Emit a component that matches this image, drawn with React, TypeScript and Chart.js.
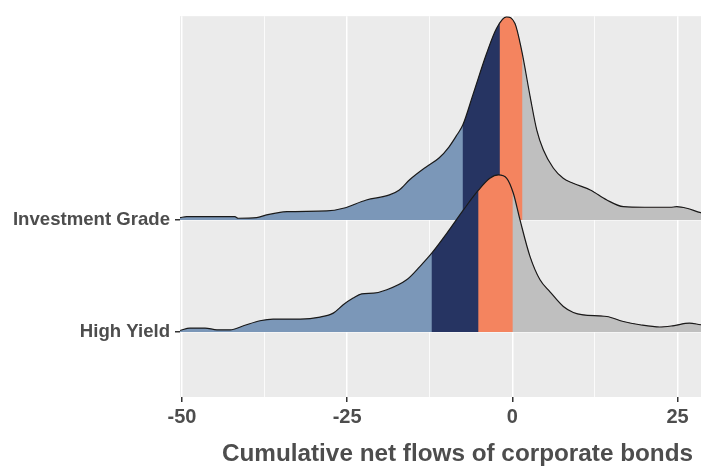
import React, { useEffect, useRef } from "react";
import { Chart, registerables } from "chart.js";

Chart.register(...registerables);

// Ridge categories (value 1 = High Yield, value 2 = Investment Grade)
const categories = ["High Yield", "Investment Grade"];

// Investment Grade density curve (x = cumulative net flow, density height in ridge units)
const igFlows = [-50.3, -49.3, -42.0, -41.5, -38.7, -37.2, -34.1, -28.1, -25.6, -22.1, -18.6, -17.1, -15.5, -13.1, -11.1, -9.6, -8.4, -7.5, -5.9, -3.9, -2.4, -0.9, 0.4, 1.4, 2.7, 3.7, 4.7, 6.2, 7.7, 9.2, 11.8, 14.3, 16.8, 20.0, 23.9, 24.9, 26.4, 28.5, 31.0, 34.0];
const igDensity = [0.02, 0.029, 0.029, 0.015, 0.02, 0.045, 0.074, 0.08, 0.104, 0.178, 0.223, 0.267, 0.36, 0.47, 0.552, 0.65, 0.757, 0.846, 1.128, 1.484, 1.707, 1.81, 1.752, 1.514, 1.098, 0.801, 0.623, 0.463, 0.371, 0.327, 0.267, 0.178, 0.118, 0.113, 0.113, 0.118, 0.104, 0.065, 0.045, 0.03];

// High Yield density curve
const hyFlows = [-50.3, -48.8, -46.5, -44.7, -42.7, -40.7, -38.2, -36.2, -32.1, -29.1, -27.1, -25.6, -24.1, -22.8, -21.0, -19.0, -16.0, -14.0, -12.2, -9.9, -7.4, -5.1, -3.4, -2.1, -0.85, 0.15, 1.16, 2.68, 4.19, 5.7, 7.72, 9.23, 10.7, 14.3, 16.8, 19.3, 22.3, 24.3, 26.8, 28.5, 31.0, 34.0];
const hyDensity = [0.014, 0.036, 0.036, 0.02, 0.02, 0.056, 0.101, 0.116, 0.116, 0.134, 0.169, 0.243, 0.303, 0.341, 0.347, 0.377, 0.466, 0.584, 0.703, 0.882, 1.089, 1.267, 1.371, 1.401, 1.371, 1.238, 1.0, 0.673, 0.466, 0.359, 0.228, 0.175, 0.154, 0.139, 0.094, 0.065, 0.045, 0.056, 0.08, 0.065, 0.05, 0.03];

// Quantile boundaries for the coloured bands
const igQuantiles = [-7.5, -1.9, 1.5];
const hyQuantiles = [-12.2, -5.15, 0.05];
const bandColors = ["#7b97b8", "#263462", "#f4845f", "#bfbfbf"];

// Axis ticks
const xTickValues = [-50, -37.5, -25, -12.5, 0, 12.5, 25];
const xTickLabels = [-50, -25, 0, 25];
const yTickValues = [1, 2];

const FONT = "'Liberation Sans', Arial, Helvetica, sans-serif";
const TEXT = "#4d4d4d";

const ridgePlugin = {
  id: "ridgeFill",
  beforeDraw(chart: any) {
    const { ctx, chartArea } = chart;
    ctx.save();
    ctx.fillStyle = "#ebebeb";
    ctx.fillRect(chartArea.left, chartArea.top, chartArea.right - chartArea.left, chartArea.bottom - chartArea.top);
    ctx.restore();
  },
  beforeDatasetDraw(chart: any, args: any) {
    const meta = args.meta;
    const ds: any = chart.data.datasets[args.index];
    const line = meta.dataset;
    const pts = meta.data;
    if (!line || !pts || !pts.length) return;
    const { ctx, chartArea } = chart;
    const xs = chart.scales.x;
    const ys = chart.scales.y;
    const base = ys.getPixelForValue(ds.baseline);
    if (typeof line.updateControlPoints === "function") line.updateControlPoints(chartArea, "x");
    const bounds = [chartArea.left, ...ds.quantiles.map((q: number) => xs.getPixelForValue(q))];
    bounds.forEach((b: number, i: number) => {
      ctx.save();
      ctx.beginPath();
      ctx.rect(b, chartArea.top, chartArea.right - b, chartArea.bottom - chartArea.top);
      ctx.clip();
      ctx.beginPath();
      if (typeof line.path === "function") {
        line.path(ctx);
      } else {
        pts.forEach((p: any, j: number) => (j ? ctx.lineTo(p.x, p.y) : ctx.moveTo(p.x, p.y)));
      }
      ctx.lineTo(pts[pts.length - 1].x, base);
      ctx.lineTo(pts[0].x, base);
      ctx.closePath();
      ctx.fillStyle = bandColors[i];
      ctx.fill();
      ctx.restore();
    });
  },
};

export default function App() {
  const canvasRef = useRef<HTMLCanvasElement | null>(null);

  useEffect(() => {
    if (!canvasRef.current) return;
    const ridge = (flows: number[], dens: number[], baseline: number) =>
      flows.map((x, i) => ({ x, y: baseline + dens[i] }));

    const chart = new Chart(canvasRef.current, {
      type: "line",
      data: {
        datasets: [
          {
            label: categories[0],
            data: ridge(hyFlows, hyDensity, 1),
            baseline: 1,
            quantiles: hyQuantiles,
            borderColor: "#1a1a1a",
            borderWidth: 1.2,
            pointRadius: 0,
            fill: false,
            cubicInterpolationMode: "monotone",
          } as any,
          {
            label: categories[1],
            data: ridge(igFlows, igDensity, 2),
            baseline: 2,
            quantiles: igQuantiles,
            borderColor: "#1a1a1a",
            borderWidth: 1.2,
            pointRadius: 0,
            fill: false,
            cubicInterpolationMode: "monotone",
          } as any,
        ],
      },
      options: {
        animation: false,
        responsive: false,
        layout: { padding: { top: 16, right: 5, left: 0, bottom: 0 } },
        plugins: { legend: { display: false }, tooltip: { enabled: false } },
        scales: {
          x: {
            type: "linear",
            min: -50.3,
            max: 33.7,
            afterBuildTicks: (scale: any) => {
              scale.ticks = xTickValues.map((v) => ({ value: v }));
            },
            afterFit: (scale: any) => {
              scale.height = 69;
            },
            ticks: {
              autoSkip: false,
              maxRotation: 0,
              padding: 3,
              color: TEXT,
              font: { family: FONT, size: 20, weight: "bold" },
              callback: (v: any) => (xTickLabels.includes(Number(v)) ? String(v) : ""),
            },
            grid: {
              color: "#ffffff",
              lineWidth: (c: any) => (c.tick && xTickLabels.includes(c.tick.value) ? 1.5 : 0.8),
              tickColor: (c: any) => (c.tick && xTickLabels.includes(c.tick.value) ? "#333333" : "rgba(0,0,0,0)"),
              tickLength: 5,
              drawTicks: true,
            },
            border: { display: false },
            title: {
              display: true,
              text: "Cumulative net flows of corporate bonds",
              color: TEXT,
              font: { family: FONT, size: 24.3, weight: "bold", lineHeight: 1 },
              padding: { top: 0, bottom: 0 },
            },
          },
          y: {
            type: "linear",
            min: 0.421,
            max: 3.817,
            afterBuildTicks: (scale: any) => {
              scale.ticks = yTickValues.map((v) => ({ value: v }));
            },
            afterFit: (scale: any) => {
              scale.width = 180;
            },
            ticks: {
              autoSkip: false,
              padding: 5,
              color: TEXT,
              font: { family: FONT, size: 18.6, weight: "bold" },
              callback: (v: any) => categories[Number(v) - 1] ?? "",
            },
            grid: {
              color: "#ffffff",
              lineWidth: 1.5,
              tickColor: "#333333",
              tickLength: 5,
            },
            border: { display: false },
          },
        },
      } as any,
      plugins: [ridgePlugin],
    });
    return () => chart.destroy();
  }, []);

  return (
    <div style={{ position: "fixed", left: 0, top: 0, width: 701, height: 466, overflow: "hidden", background: "#ffffff" }}>
      <canvas ref={canvasRef} width={740} height={466} style={{ display: "block", width: 740, height: 466 }} />
    </div>
  );
}
